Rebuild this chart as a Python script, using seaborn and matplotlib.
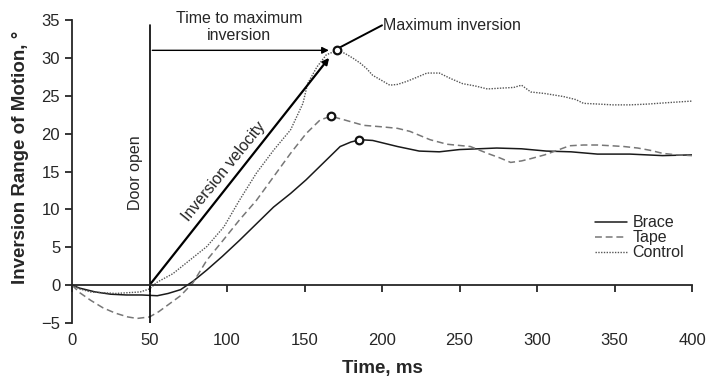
import matplotlib.pyplot as plt
import pandas as pd
import seaborn as sns

# --- data ---
brace_t = [0, 5, 15, 25, 35, 45, 55, 62, 70, 78, 87, 97, 108, 119, 130, 141, 151, 162, 173, 180, 186,
           194, 202, 210, 217, 224, 237, 250, 262, 274, 290, 306, 322, 339, 360, 381, 400]
brace_y = [0, -0.4, -0.9, -1.2, -1.3, -1.3, -1.4, -1.1, -0.6, 0.5, 2.0, 3.8, 5.9, 8.1, 10.3, 12.1, 13.9,
           16.1, 18.3, 18.9, 19.2, 19.1, 18.7, 18.3, 18.0, 17.7, 17.6, 17.9, 18.0, 18.1, 18.0, 17.7,
           17.6, 17.3, 17.3, 17.1, 17.2]

tape_t = [0, 5, 12, 20, 28, 36, 42, 50, 56, 62, 70, 78, 87, 97, 108, 119, 130, 141, 151, 160,
          167, 176, 188, 200, 210, 218, 231, 242, 257, 268, 276, 283, 290, 296, 305, 313, 321, 330,
          339, 348, 356, 365, 373, 381, 390, 400]
tape_y = [0, -1.0, -2.0, -3.0, -3.7, -4.2, -4.4, -4.2, -3.5, -2.6, -1.4, 0.3, 3.3, 5.8, 8.6, 11.2,
          14.3, 17.4, 20.0, 21.8, 22.3, 21.8, 21.1, 20.9, 20.7, 20.3, 19.2, 18.6, 18.3, 17.4,
          16.8, 16.2, 16.4, 16.7, 17.2, 17.8, 18.4, 18.5, 18.5, 18.4, 18.3, 18.1, 17.8, 17.4, 17.2, 17.1]

control_t = [0, 5, 12, 20, 28, 36, 44, 50, 55, 65, 76, 87, 98, 108, 119, 130, 141, 149, 152, 158,
             164, 171, 176, 181, 186, 190, 194, 200, 205, 210, 216, 222, 229, 237, 244,
             252, 260, 268, 276, 285, 290, 296, 305, 317, 325, 330, 340, 349, 360, 371, 385, 400]
control_y = [0, -0.5, -0.9, -1.0, -1.1, -1.0, -0.9, -0.5, 0.4, 1.5, 3.3, 5.1, 7.7, 11.2, 14.8, 17.8,
             20.5, 24.0, 26.6, 28.8, 30.4, 31.0, 30.6, 30.0, 29.3, 28.6, 27.7, 27.0,
             26.4, 26.5, 26.9, 27.4, 28.0, 28.0, 27.3, 26.6, 26.3, 25.9, 26.0, 26.1, 26.4, 25.5, 25.3,
             24.9, 24.5, 24.0, 23.9, 23.8, 23.8, 23.9, 24.1, 24.3]

peak_t = [185, 167, 171]
peak_y = [19.2, 22.3, 31.0]
groups = ['Brace', 'Tape', 'Control']

df = pd.concat([
    pd.DataFrame({'t': brace_t, 'y': brace_y, 'group': 'Brace'}),
    pd.DataFrame({'t': tape_t, 'y': tape_y, 'group': 'Tape'}),
    pd.DataFrame({'t': control_t, 'y': control_y, 'group': 'Control'}),
])

sns.set_theme(style="ticks")
plt.rcParams['font.family'] = ['Liberation Sans', 'DejaVu Sans']

fig = plt.figure(figsize=(7.18, 3.78), dpi=100)
ax = fig.add_axes([0.1003, 0.1455, 0.8635, 0.8015])

colors = {'Brace': '#1a1a1a', 'Tape': '#777777', 'Control': '#555555'}
styles = {'Brace': '-', 'Tape': (0, (4.5, 2.5)), 'Control': (0, (1, 1))}
for g in groups:
    sub = df[df['group'] == g]
    sns.lineplot(data=sub, x='t', y='y', ax=ax, color=colors[g], linestyle=styles[g],
                 linewidth=1.1 if g != 'Control' else 1.0, label=g, sort=False)

ax.scatter(peak_t, peak_y, s=30, facecolor='white', edgecolor='#111111', linewidth=1.6, zorder=5)

# annotations
ax.plot([50, 50], [-5, 34.3], color='black', lw=1.2)
ax.annotate('', xy=(167.5, 31.0), xytext=(50, 31.0),
            arrowprops=dict(arrowstyle='-|>', color='black', lw=1.0, mutation_scale=10))
ax.annotate('', xy=(167, 30.3), xytext=(50, 0),
            arrowprops=dict(arrowstyle='-|>', color='black', lw=1.6, mutation_scale=9))
ax.plot([172, 200], [31.3, 34.3], color='black', lw=1.4)
ax.text(200.5, 34.3, 'Maximum inversion', fontsize=11.5, va='center', ha='left')
ax.text(108, 34.1, 'Time to maximum\ninversion', fontsize=11.5, ha='center', va='center',
        linespacing=1.2)
ax.text(41, 14.9, 'Door open', fontsize=11.5, rotation=90, ha='center', va='center')
ax.text(98, 15.0, 'Inversion velocity', fontsize=11.5, rotation=51, ha='center', va='center',
        rotation_mode='anchor')

ax.set_xlim(0, 400)
ax.set_ylim(-5, 35)
ax.set_xticks(range(0, 401, 50))
ax.set_yticks(range(-5, 36, 5))
ax.set_yticklabels(['\u22125' if v < 0 else str(v) for v in range(-5, 36, 5)])
ax.spines['top'].set_visible(False)
ax.spines['right'].set_visible(False)
ax.spines['bottom'].set_position(('data', 0))
ax.spines['bottom'].set_linewidth(1.3)
ax.spines['left'].set_linewidth(1.3)
ax.tick_params(axis='x', direction='out', length=5, width=1.3, pad=29.5, labelsize=12)
ax.tick_params(axis='y', direction='out', length=5, width=1.3, labelsize=12)

ax.set_xlabel('Time, ms', fontsize=13.5, fontweight='bold')
ax.xaxis.set_label_coords(0.5, -0.122)
ax.set_ylabel('Inversion Range of Motion, \u00b0', fontsize=13.5, fontweight='bold')
ax.yaxis.set_label_coords(-0.07, 0.548)

leg = ax.legend(loc='lower right', bbox_to_anchor=(1.0, 0.18), frameon=False, fontsize=11.5,
                handlelength=2.0, handletextpad=0.35, labelspacing=0.0, borderpad=0)

plt.savefig('out.png', dpi=100)
